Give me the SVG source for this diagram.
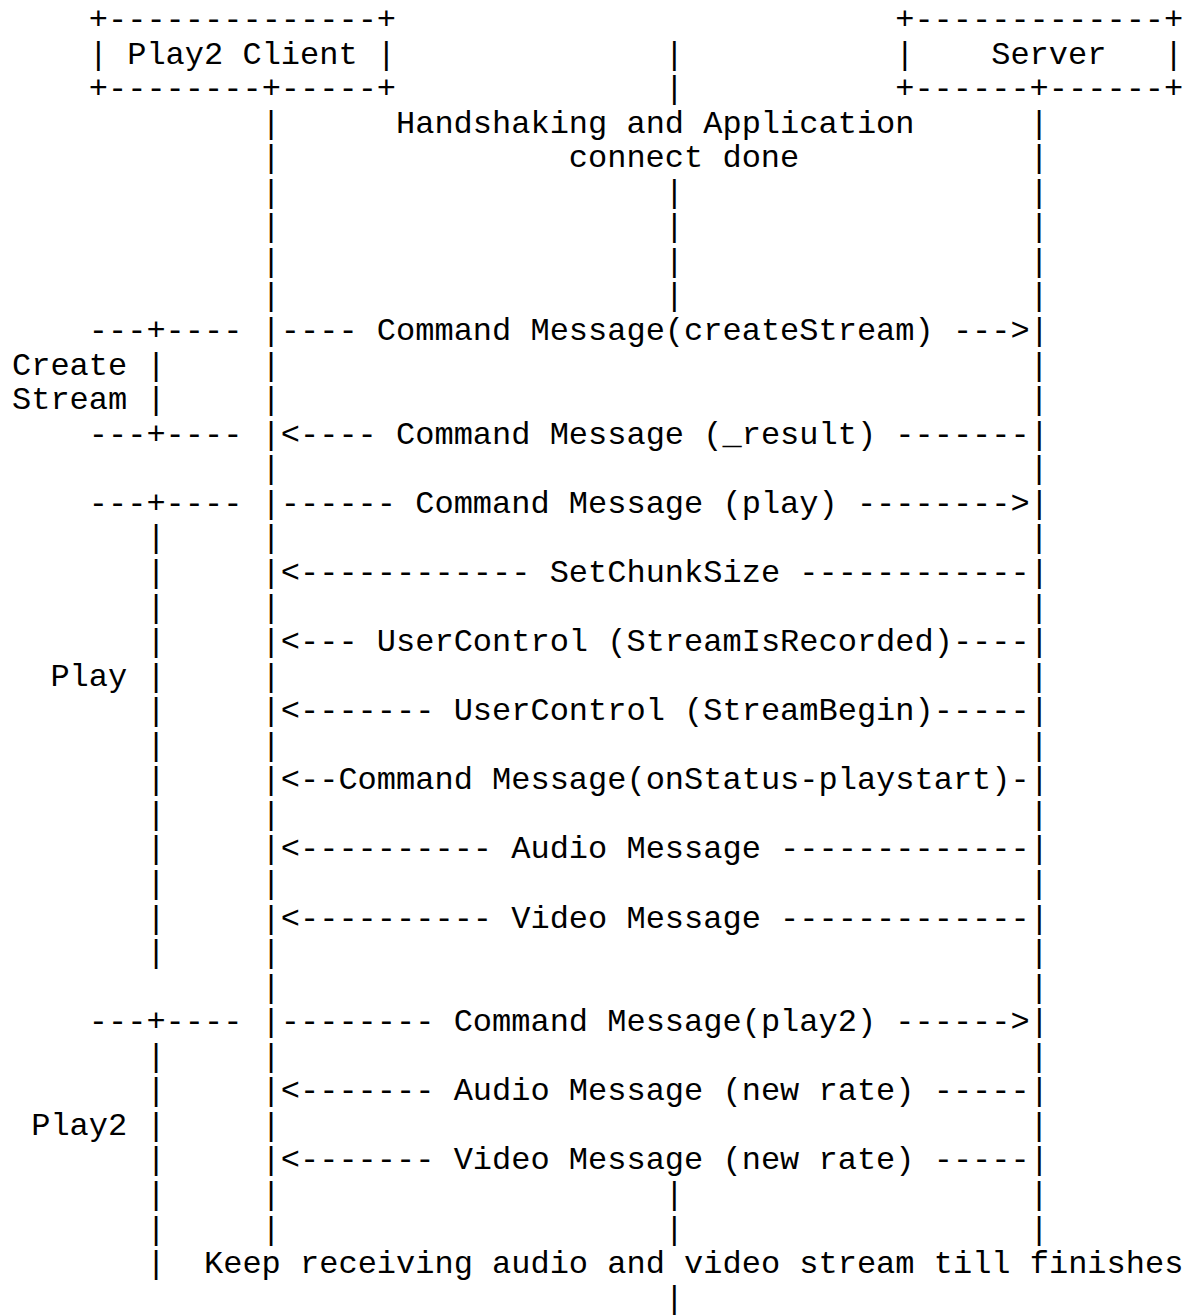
<svg xmlns="http://www.w3.org/2000/svg" width="1191" height="1316" viewBox="0 0 1191 1316">
<style>
text { font-family: "Liberation Mono", "Courier New", monospace; font-size: 32px; fill: #000; }
</style>
<rect x="0" y="0" width="1191" height="1316" fill="#fff"/>
<g id="client">
<text x="88.8" y="29">+--------------+</text>
<text x="88.8" y="63.56">| Play2 Client |</text>
<text x="88.8" y="98.12">+--------+-----+</text>
</g>
<g id="server">
<text x="895.2" y="29">+-------------+</text>
<text x="895.2" y="63.56">|</text>
<text x="991.2" y="63.56">Server</text>
<text x="1164" y="63.56">|</text>
<text x="895.2" y="98.12">+------+------+</text>
</g>
<g id="notes">
<text x="396" y="132.68">Handshaking and Application</text>
<text x="568.8" y="167.24">connect done</text>
<text x="204" y="1273.16">Keep receiving audio and video stream till finishes</text>
</g>
<g id="phases">
<text x="88.8" y="340.04">---+----</text>
<text x="12" y="374.6">Create</text><text x="146.4" y="374.6">|</text>
<text x="12" y="409.16">Stream</text><text x="146.4" y="409.16">|</text>
<text x="88.8" y="443.72">---+----</text>
<text x="88.8" y="512.84">---+----</text>
<text x="146.4" y="547.4">|</text>
<text x="146.4" y="581.96">|</text>
<text x="146.4" y="616.52">|</text>
<text x="146.4" y="651.08">|</text>
<text x="50.4" y="685.64">Play</text><text x="146.4" y="685.64">|</text>
<text x="146.4" y="720.2">|</text>
<text x="146.4" y="754.76">|</text>
<text x="146.4" y="789.32">|</text>
<text x="146.4" y="823.88">|</text>
<text x="146.4" y="858.44">|</text>
<text x="146.4" y="893">|</text>
<text x="146.4" y="927.56">|</text>
<text x="146.4" y="962.12">|</text>
<text x="88.8" y="1031.24">---+----</text>
<text x="146.4" y="1065.8">|</text>
<text x="146.4" y="1100.36">|</text>
<text x="31.2" y="1134.92">Play2</text><text x="146.4" y="1134.92">|</text>
<text x="146.4" y="1169.48">|</text>
<text x="146.4" y="1204.04">|</text>
<text x="146.4" y="1238.6">|</text>
<text x="146.4" y="1273.16">|</text>
</g>
<g id="connectors">
<!-- middle line -->
<text x="664.8" y="63.56">|</text>
<text x="664.8" y="98.12">|</text>
<text x="664.8" y="201.8">|</text>
<text x="664.8" y="236.36">|</text>
<text x="664.8" y="270.92">|</text>
<text x="664.8" y="305.48">|</text>
<text x="664.8" y="1204.04">|</text>
<text x="664.8" y="1238.6">|</text>
<text x="664.8" y="1307.72">|</text>
<!-- lifelines -->
<text x="261.6" y="132.68">|</text><text x="1029.6" y="132.68">|</text>
<text x="261.6" y="167.24">|</text><text x="1029.6" y="167.24">|</text>
<text x="261.6" y="201.8">|</text><text x="1029.6" y="201.8">|</text>
<text x="261.6" y="236.36">|</text><text x="1029.6" y="236.36">|</text>
<text x="261.6" y="270.92">|</text><text x="1029.6" y="270.92">|</text>
<text x="261.6" y="305.48">|</text><text x="1029.6" y="305.48">|</text>
<text x="261.6" y="340.04">|---- Command Message(createStream) ---&gt;|</text>
<text x="261.6" y="374.6">|</text><text x="1029.6" y="374.6">|</text>
<text x="261.6" y="409.16">|</text><text x="1029.6" y="409.16">|</text>
<text x="261.6" y="443.72">|&lt;---- Command Message (_result) -------|</text>
<text x="261.6" y="478.28">|</text><text x="1029.6" y="478.28">|</text>
<text x="261.6" y="512.84">|------ Command Message (play) --------&gt;|</text>
<text x="261.6" y="547.4">|</text><text x="1029.6" y="547.4">|</text>
<text x="261.6" y="581.96">|&lt;------------ SetChunkSize ------------|</text>
<text x="261.6" y="616.52">|</text><text x="1029.6" y="616.52">|</text>
<text x="261.6" y="651.08">|&lt;--- UserControl (StreamIsRecorded)----|</text>
<text x="261.6" y="685.64">|</text><text x="1029.6" y="685.64">|</text>
<text x="261.6" y="720.2">|&lt;------- UserControl (StreamBegin)-----|</text>
<text x="261.6" y="754.76">|</text><text x="1029.6" y="754.76">|</text>
<text x="261.6" y="789.32">|&lt;--Command Message(onStatus-playstart)-|</text>
<text x="261.6" y="823.88">|</text><text x="1029.6" y="823.88">|</text>
<text x="261.6" y="858.44">|&lt;---------- Audio Message -------------|</text>
<text x="261.6" y="893">|</text><text x="1029.6" y="893">|</text>
<text x="261.6" y="927.56">|&lt;---------- Video Message -------------|</text>
<text x="261.6" y="962.12">|</text><text x="1029.6" y="962.12">|</text>
<text x="261.6" y="996.68">|</text><text x="1029.6" y="996.68">|</text>
<text x="261.6" y="1031.24">|-------- Command Message(play2) ------&gt;|</text>
<text x="261.6" y="1065.8">|</text><text x="1029.6" y="1065.8">|</text>
<text x="261.6" y="1100.36">|&lt;------- Audio Message (new rate) -----|</text>
<text x="261.6" y="1134.92">|</text><text x="1029.6" y="1134.92">|</text>
<text x="261.6" y="1169.48">|&lt;------- Video Message (new rate) -----|</text>
<text x="261.6" y="1204.04">|</text><text x="1029.6" y="1204.04">|</text>
<text x="261.6" y="1238.6">|</text><text x="1029.6" y="1238.6">|</text>
</g>
</svg>
